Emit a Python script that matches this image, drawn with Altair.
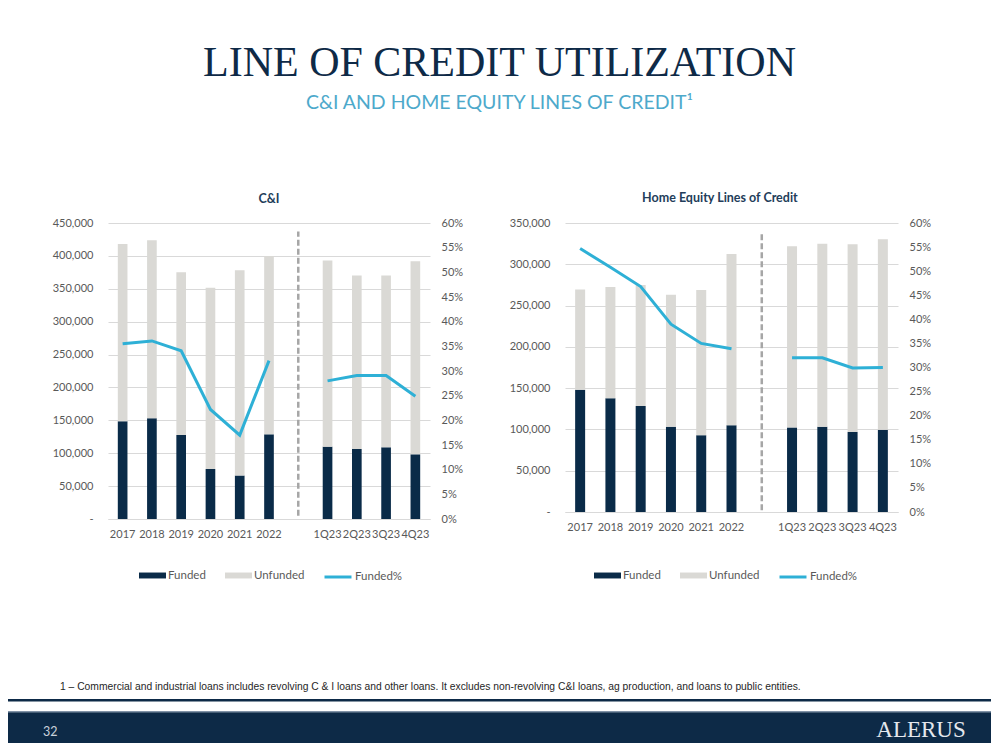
import altair as alt
import pandas as pd

# ---------------- data ----------------
periods = ["2017", "2018", "2019", "2020", "2021", "2022", " ", "1Q23", "2Q23", "3Q23", "4Q23"]
bar_periods = ["2017", "2018", "2019", "2020", "2021", "2022", "1Q23", "2Q23", "3Q23", "4Q23"]
line_groups = ["annual"] * 6 + ["quarterly"] * 4

ci_funded = [148500, 153000, 127700, 76000, 66000, 128700, 110000, 106400, 109000, 98300]
ci_unfunded = [269500, 270600, 247300, 275700, 312000, 271100, 283000, 263600, 261000, 293700]
ci_funded_pct = [0.355, 0.361, 0.341, 0.222, 0.170, 0.321, 0.280, 0.291, 0.291, 0.249]

he_funded = [148000, 137900, 128500, 103200, 93000, 105200, 102400, 103200, 97000, 99500]
he_unfunded = [121600, 134600, 146500, 159800, 176000, 207300, 219500, 221800, 227300, 230900]
he_funded_pct = [0.547, 0.508, 0.468, 0.390, 0.350, 0.339, 0.320, 0.320, 0.299, 0.300]

ci_ticks = [0, 50000, 100000, 150000, 200000, 250000, 300000, 350000, 400000, 450000]
he_ticks = [0, 50000, 100000, 150000, 200000, 250000, 300000, 350000]
pct_ticks = [0, 0.05, 0.10, 0.15, 0.20, 0.25, 0.30, 0.35, 0.40, 0.45, 0.50, 0.55, 0.60]

series_names = ["Funded", "Unfunded"]
line_name = ["Funded%"]

main_title = "LINE OF CREDIT UTILIZATION"
sub_title = "C&I AND HOME EQUITY LINES OF CREDIT\u00b9"
footnote = ("1 \u2013 Commercial and industrial loans includes revolving C & I loans and other loans. "
            "It excludes non-revolving C&I loans, ag production, and loans to public entities.")
page_no = ["32"]
logo = ["ALERUS"]

# ---------------- styles ----------------
FONT = "Lato"
NAVY = "#0A2B48"
GREY_BAR = "#DAD9D5"
TEAL = "#2EB0D6"
LABEL = "#595959"
GRID = "#D9D9D9"
BAND = "#0D2A47"


def panel(title, funded, unfunded, pct, ymax, yticks, w, h, div_bottom, div_top,
          title_offset, title_frame, legend_x, legend_y):
    bars_df = pd.DataFrame({
        "period": bar_periods * 2,
        "series": [series_names[0]] * len(funded) + [series_names[1]] * len(unfunded),
        "value": funded + unfunded,
        "ord": [0] * len(funded) + [1] * len(unfunded),
    })
    line_df = pd.DataFrame({
        "period": bar_periods,
        "pct": pct,
        "grp": line_groups,
        "name": line_name * len(pct),
    })
    div_df = pd.DataFrame({"period": [" "], "y0": [div_bottom], "y1": [div_top]})

    x_enc = alt.X(
        "period:N", sort=periods,
        scale=alt.Scale(domain=periods, paddingInner=0.67, paddingOuter=0.335),
        axis=alt.Axis(title=None, labelAngle=0, labelPadding=9, ticks=False, domain=True,
                      domainColor=GRID, labelFont=FONT, labelFontSize=11, labelColor=LABEL,
                      labelOverlap=False, grid=False),
    )
    yscale = alt.Scale(domain=[0, ymax], nice=False, zero=True)
    yaxis = alt.Axis(title=None, values=yticks,
                     labelExpr="datum.value == 0 ? '-' : format(datum.value, ',')",
                     grid=True, gridColor=GRID, domain=False, ticks=False, labelPadding=15,
                     labelFont=FONT, labelFontSize=11, labelColor=LABEL)

    bars = alt.Chart(bars_df).mark_bar().encode(
        x=x_enc,
        y=alt.Y("value:Q", stack="zero", scale=yscale, axis=yaxis),
        fill=alt.Fill("series:N", scale=alt.Scale(domain=series_names, range=[NAVY, GREY_BAR]),
                      legend=alt.Legend(orient="none", legendX=legend_x, legendY=legend_y + 2,
                                        direction="horizontal", title=None,
                                        symbolType="M-1,-0.22H1V0.22H-1Z", symbolSize=729,
                                        symbolStrokeWidth=0, labelFont=FONT, labelFontSize=11.5,
                                        labelColor=LABEL, labelOffset=2, columnPadding=19,
                                        padding=0)),
        order=alt.Order("ord:Q"),
    )
    divider = alt.Chart(div_df).mark_rule(color="#A6A6A6", strokeWidth=2.5, strokeDash=[6, 3]).encode(
        x=x_enc,
        y=alt.Y("y0:Q", scale=yscale, axis=yaxis),
        y2="y1:Q",
    )
    line = alt.Chart(line_df).mark_line(strokeWidth=3).encode(
        x=x_enc,
        y=alt.Y("pct:Q", scale=alt.Scale(domain=[0, 0.6], nice=False),
                axis=alt.Axis(orient="right", title=None, values=pct_ticks, format=".0%",
                              grid=False, domain=False, ticks=False, labelPadding=11,
                              labelFont=FONT, labelFontSize=11, labelColor=LABEL)),
        detail="grp:N",
        stroke=alt.Stroke("name:N", scale=alt.Scale(domain=line_name, range=[TEAL]),
                          legend=alt.Legend(orient="none", legendX=legend_x + 184, legendY=legend_y + 2,
                                            title=None, symbolType="stroke", symbolSize=729,
                                            symbolStrokeWidth=3, labelFont=FONT,
                                            labelFontSize=11.5, labelColor=LABEL, labelOffset=2,
                                            padding=0)),
    )
    return alt.layer(alt.layer(bars, divider), line).resolve_scale(y="independent").properties(
        width=w, height=h,
        title=alt.TitleParams(title, font=FONT, fontSize=12.5, fontWeight="bold", color="#233D5A",
                              anchor="middle", frame=title_frame, offset=title_offset),
    )


left = panel("C&I", ci_funded, ci_unfunded, ci_funded_pct, 450000, ci_ticks, 322, 296,
             5000, 437000, 12, "group", 31, 337)
right = panel("Home Equity Lines of Credit", he_funded, he_unfunded, he_funded_pct, 350000,
              he_ticks, 333, 289, 2000, 338000, 13, "bounds", 29, 337)

spacer = alt.Chart(pd.DataFrame({"t": [""]})).mark_text().encode(
    text="t:N", x=alt.value(0), y=alt.value(0)).properties(width=1, height=1)

charts = alt.hconcat(left, right, spacing=46).resolve_scale(
    fill="independent", stroke="independent").resolve_legend(fill="independent", stroke="independent")
row = alt.hconcat(spacer, charts, spacing=43)

# ---------------- footer ----------------
FW = 983
one = pd.DataFrame({"k": [0]})
foot_text = alt.Chart(pd.DataFrame({"t": [footnote]})).mark_text(
    align="left", baseline="middle", font="Liberation Sans",
    fontSize=10.3, color="#262626").encode(text="t:N", x=alt.value(52), y=alt.value(10))
thin_line = alt.Chart(one).mark_rect(color=BAND).encode(
    x=alt.value(0), x2=alt.value(FW), y=alt.value(22), y2=alt.value(24.5))
band = alt.Chart(one).mark_rect(color=BAND).encode(
    x=alt.value(0), x2=alt.value(FW), y=alt.value(34), y2=alt.value(66))
band_edge = alt.Chart(one).mark_rect(color="#8193A7").encode(
    x=alt.value(0), x2=alt.value(FW), y=alt.value(34), y2=alt.value(35.5))
page_text = alt.Chart(pd.DataFrame({"t": page_no})).mark_text(
    align="left", baseline="middle", font=FONT, fontSize=12.5, color="#C9D1DB").encode(
    text="t:N", x=alt.value(35), y=alt.value(54.7))
logo_text = alt.Chart(pd.DataFrame({"t": logo})).mark_text(
    align="center", baseline="middle", font="Liberation Serif", fontSize=23,
    color="#E4E8EE").encode(text="t:N", x=alt.value(913), y=alt.value(53))
footer = alt.layer(thin_line, band, band_edge, foot_text, page_text, logo_text).properties(
    width=FW, height=66)

chart = alt.vconcat(row, footer, spacing=94).properties(
    title=alt.TitleParams(main_title, subtitle=sub_title, anchor="middle", frame="bounds",
                          font="Liberation Serif", fontSize=42, fontWeight="normal", color="#0E2A47",
                          subtitleFont=FONT, subtitleFontSize=19.5, subtitleColor="#4DA9CB",
                          subtitlePadding=9, offset=78),
    padding={"left": 0, "top": 34, "right": 0, "bottom": 0},
).configure_view(strokeWidth=0)

chart.save("out.html", embed_options={"renderer": "svg", "actions": False})
